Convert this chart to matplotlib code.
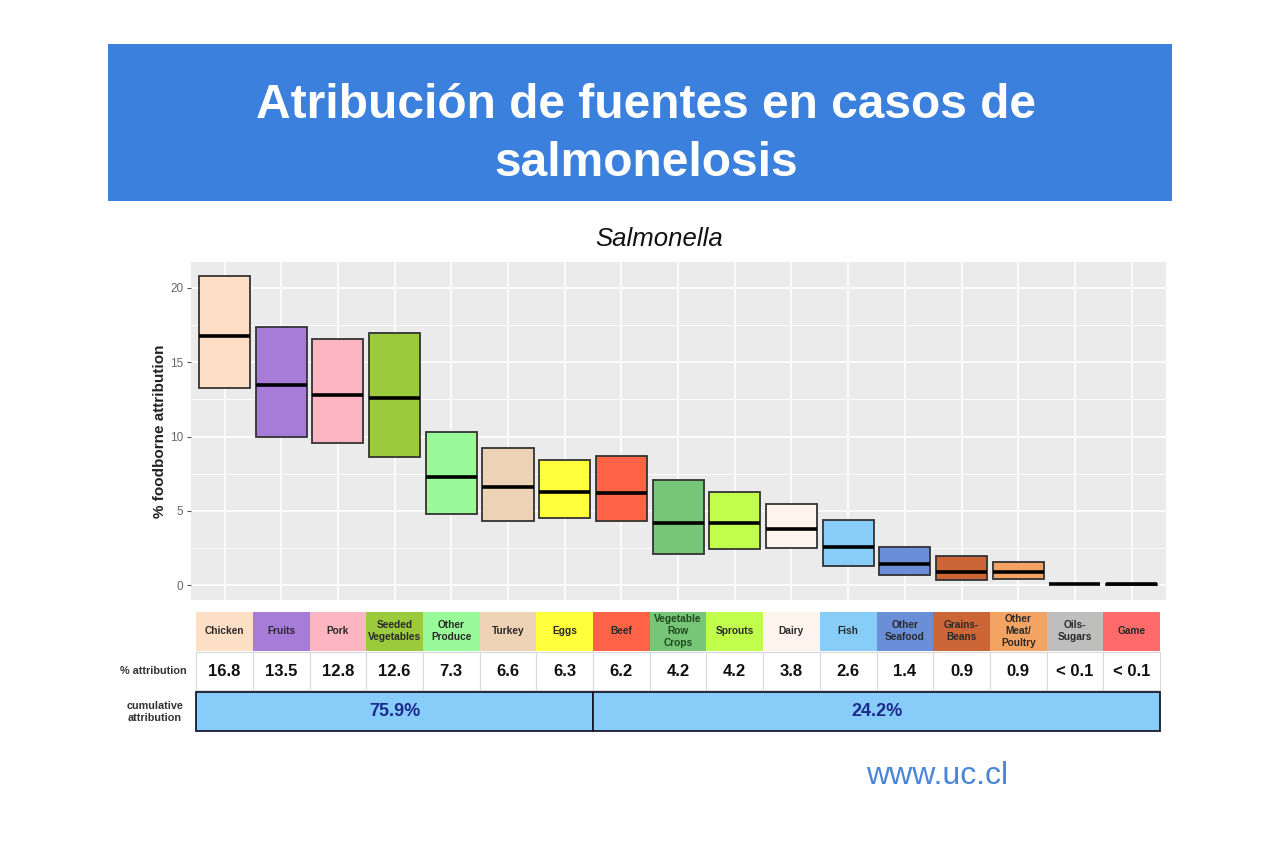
import matplotlib
matplotlib.use("Agg")
import matplotlib.pyplot as plt
from matplotlib.patches import Rectangle
from matplotlib.ticker import MultipleLocator

plt.rcParams['font.family'] = ['Liberation Sans', 'DejaVu Sans']

# ---------------- data ----------------
categories = ["Chicken", "Fruits", "Pork", "Seeded\nVegetables", "Other\nProduce", "Turkey",
              "Eggs", "Beef", "Vegetable\nRow\nCrops", "Sprouts", "Dairy", "Fish",
              "Other\nSeafood", "Grains-\nBeans", "Other\nMeat/\nPoultry", "Oils-\nSugars", "Game"]
colors = ["#FDDFC5", "#A77BD8", "#FDB6C1", "#9BCB3C", "#98FA98", "#EDD2B6", "#FFFF3C",
          "#FF6347", "#77C677", "#C1FD4B", "#FFF3EE", "#88CDF8", "#6A8FD8", "#CD6636",
          "#F3A462", "#BEBEBE", "#FF6A6A"]
lower = [13.3, 10.0, 9.6, 8.6, 4.8, 4.3, 4.5, 4.3, 2.1, 2.4, 2.5, 1.3, 0.67, 0.34, 0.4, 0.05, 0.03]
median = [16.8, 13.5, 12.8, 12.6, 7.3, 6.6, 6.3, 6.2, 4.2, 4.2, 3.8, 2.6, 1.4, 0.9, 0.9, 0.07, 0.05]
upper = [20.8, 17.4, 16.6, 17.0, 10.3, 9.2, 8.4, 8.7, 7.1, 6.3, 5.45, 4.4, 2.55, 1.95, 1.55, 0.09, 0.07]
pct_labels = ["16.8", "13.5", "12.8", "12.6", "7.3", "6.6", "6.3", "6.2", "4.2", "4.2",
              "3.8", "2.6", "1.4", "0.9", "0.9", "< 0.1", "< 0.1"]
cum_labels = ["75.9%", "24.2%"]
cum_groups = [7, 10]  # number of categories in each cumulative group
yticks = [0, 5, 10, 15, 20]

W, H = 1280, 850
fig = plt.figure(figsize=(W / 100, H / 100), dpi=100)
fig.patch.set_facecolor("white")

def fx(px):
    return px / W

def fy(py):
    return 1 - py / H

# ---------------- banner ----------------
fig.add_artist(Rectangle((fx(108), fy(201)), fx(1172) - fx(108), fy(44) - fy(201),
                         transform=fig.transFigure, facecolor="#3A80DC", edgecolor="none", zorder=0))
fig.text(fx(646), fy(106), "Atribución de fuentes en casos de", color="white", fontsize=34.5,
         fontweight="bold", ha="center", va="center")
fig.text(fx(646), fy(163), "salmonelosis", color="white", fontsize=34.5,
         fontweight="bold", ha="center", va="center")

# ---------------- main chart ----------------
n = len(categories)
x = list(range(n))
ax = fig.add_axes([fx(190.5), fy(600), fx(1165.7) - fx(190.5), fy(262) - fy(600)])
ax.set_facecolor("#EBEBEB")
ax.set_xlim(-0.6, n - 1 + 0.6)
ax.set_ylim(-1.0, 21.75)
heights = [u - l for u, l in zip(upper, lower)]
ax.bar(x, heights, bottom=lower, width=0.9, color=colors, edgecolor="#333333",
       linewidth=1.3, zorder=3)
ax.hlines(median, [i - 0.45 for i in x], [i + 0.45 for i in x], color="black",
          linewidth=2.6, zorder=4)
ax.yaxis.set_major_locator(MultipleLocator(5))
ax.yaxis.set_minor_locator(MultipleLocator(2.5))
ax.set_yticks(yticks)
ax.set_xticks(x)
ax.grid(which="major", color="white", linewidth=1.2, zorder=0)
ax.grid(which="minor", axis="y", color="white", linewidth=0.6, zorder=0)
ax.set_axisbelow(True)
for s in ax.spines.values():
    s.set_visible(False)
ax.tick_params(axis="x", length=0, labelbottom=False)
ax.tick_params(axis="y", which="major", length=3, color="#555555", labelsize=8.5,
               labelcolor="#666666", pad=2)
ax.tick_params(axis="y", which="minor", length=0)
fig.text(fx(160), fy(431), "% foodborne attribution", rotation=90, fontsize=11,
         fontweight="bold", color="#222222", ha="center", va="center")
fig.text(fx(659), fy(239), "Salmonella", fontsize=18.5, style="italic", color="#111111",
         ha="center", va="center")

# ---------------- table ----------------
tax = fig.add_axes([fx(190.5), fy(740), fx(1165.7) - fx(190.5), fy(605) - fy(740)])
tax.set_xlim(-0.6, n - 1 + 0.6)
tax.set_ylim(740, 605)
tax.axis("off")
for i, (c, col, p) in enumerate(zip(categories, colors, pct_labels)):
    tax.add_patch(Rectangle((i - 0.5, 612), 1, 39, facecolor=col, edgecolor="none"))
    tcol = "#1f4a1f" if i == 8 else "#2a2a2a"
    tax.text(i, 631.5, c, ha="center", va="center", fontsize=7.3, fontweight="bold",
             color=tcol, linespacing=1.25)
    tax.add_patch(Rectangle((i - 0.5, 652), 1, 38, facecolor="white", edgecolor="#D8D8D8",
                            linewidth=0.8))
    tax.text(i, 671, p, ha="center", va="center", fontsize=12, fontweight="bold", color="#111111")
start = 0
for lab, g in zip(cum_labels, cum_groups):
    tax.add_patch(Rectangle((start - 0.5, 692), g, 39, facecolor="#88CDF9",
                            edgecolor="#1a1a2e", linewidth=1.3))
    tax.text(start - 0.5 + g / 2, 712, lab, ha="center", va="center", fontsize=13,
             fontweight="bold", color="#1B2A8C")
    start += g

fig.text(fx(187), fy(671), "% attribution", ha="right", va="center", fontsize=7.8,
         fontweight="bold", color="#333333")
fig.text(fx(155), fy(712), "cumulative\nattribution", ha="center", va="center", fontsize=7.8,
         fontweight="bold", color="#333333", linespacing=1.3)

# ---------------- footer ----------------
fig.text(fx(937.5), fy(776), "www.uc.cl", ha="center", va="center", fontsize=23,
         color="#4A86D8")

fig.savefig("out.png", dpi=100, facecolor="white")
